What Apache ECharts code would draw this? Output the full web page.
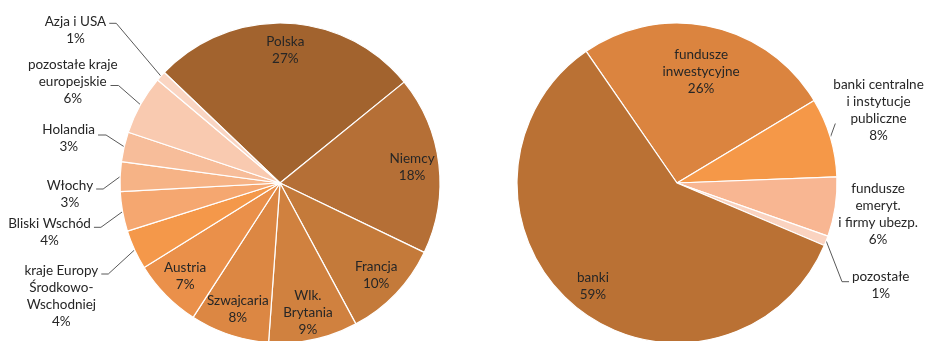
<!DOCTYPE html>
<html>
<head>
<meta charset="utf-8">
<script src="https://cdn.jsdelivr.net/npm/echarts@6/dist/echarts.min.js"></script>
<style>
  html, body { margin: 0; padding: 0; background: #fff; }
  #chart { width: 927px; height: 341px; }
</style>
</head>
<body>
<div id="chart"></div>
<script>
// Struktura inwestorów według kraju (lewy wykres) i typu instytucji (prawy wykres), w %
const countryNames = ['Polska', 'Niemcy', 'Francja', 'Wlk.\nBrytania', 'Szwajcaria', 'Austria',
  'kraje Europy\nŚrodkowo-\nWschodniej', 'Bliski Wschód', 'Włochy', 'Holandia',
  'pozostałe kraje\neuropejskie', 'Azja i USA'];
const countryShares = [27, 18, 10, 9, 8, 7, 4, 4, 3, 3, 6, 1];

const holderNames = ['fundusze\ninwestycyjne', 'banki centralne\ni instytucje\npubliczne',
  'fundusze\nemeryt.\ni firmy ubezp.', 'pozostałe', 'banki'];
const holderShares = [26, 8, 6, 1, 59];

// Paleta
const countryColors = ['#A2632E', '#B56F36', '#C47A3A', '#D0813F', '#DC8743', '#EA904A',
  '#F4984A', '#F5A770', '#F6B386', '#F7BD9A', '#F9CAB0', '#FAD5C2'];
const holderColors = ['#DB843F', '#F59848', '#F8B692', '#FAD3C0', '#BA7134'];

const FONT = 'Lato, "Open Sans", sans-serif';
const R = 160;
const leftCenter = [280, 183];
const rightCenter = [677, 183];
const leftStart = 136.3;
const rightStart = 124.6;
const GAP = 3;   // space between a leader line and its text

// every line of a label is a centred rich token
function labelText(p) {
  const lines = p.name.split('\n');
  lines.push(p.value + '%');
  return lines.map(s => '{t|' + s + '}').join('\n');
}
const richText = {
  t: { align: 'center', fontFamily: FONT, fontSize: 13.5, lineHeight: 17, color: '#262626' }
};

// leader-line labels outside the pies:
// len / len2 - radial and horizontal leader segments (they set the label's x),
// textY - vertical centre of the text block, lineY - height of the horizontal segment,
// endShift - how far the line end reaches in under a wider first text line
const leftOutside = {
  6: { len: 29, len2: 7, textY: 295.7, lineY: 274 },
  7: { len: 22, len2: 7, textY: 232, lineY: 227.3 },
  8: { len: 17, len2: 7, textY: 193.7, lineY: 189 },
  9: { len: 18.6, len2: 8, textY: 138.3, lineY: 135 },
  10: { len: 13.7, len2: 8, textY: 81.8, lineY: 85.5, endShift: 10 },
  11: { len: 60, len2: 7, textY: 30, lineY: 23.3 }
};
const rightOutside = {
  1: { len: 0, len2: 0, textY: 109.7, lineY: 123.5, endShift: 5 },
  2: { len: 0, len2: 0, textY: 213.8, lineY: null },
  3: { len: 17, len2: 7, textY: 285, lineY: 281.7 }
};

function placeLabels(outside) {
  return function (params) {
    const o = outside[params.dataIndex];
    if (!o) return {};
    const res = { y: o.textY };
    const pts = params.labelLinePoints;
    if (o.lineY != null && pts && pts.length) {
      const r = params.labelRect;
      const shift = o.endShift || 0;
      const onLeft = params.align === 'right';
      const endX = onLeft ? r.x + r.width + GAP - shift : r.x - GAP + shift;
      const cornerX = onLeft ? endX + o.len2 : endX - o.len2;
      res.labelLinePoints = [pts[0].slice(), [cornerX, o.lineY], [endX, o.lineY]];
    }
    return res;
  };
}

function mainPie(center, start, names, values, colors, outside) {
  return {
    type: 'pie',
    center: center,
    radius: [0, R],
    startAngle: start,
    clockwise: true,
    silent: true,
    avoidLabelOverlap: false,
    itemStyle: { borderColor: '#ffffff', borderWidth: 1.2 },
    label: {
      show: false, formatter: labelText, rich: richText,
      distanceToLabelLine: GAP, bleedMargin: 0, overflow: 'none'
    },
    labelLine: { show: false, lineStyle: { color: '#595959', width: 1 } },
    labelLayout: placeLabels(outside),
    emphasis: { disabled: true },
    data: names.map((n, i) => {
      const item = { name: n, value: values[i], itemStyle: { color: colors[i] } };
      const o = outside[i];
      if (o) {
        item.label = { show: true };
        item.labelLine = { show: o.lineY != null, length: o.len, length2: o.len2 };
      }
      return item;
    })
  };
}

// transparent ring that carries the labels drawn inside the slices
function labelRing(center, start, names, values, inner, shown) {
  return {
    type: 'pie',
    center: center,
    radius: [inner, R],
    startAngle: start,
    clockwise: true,
    silent: true,
    z: 5,
    itemStyle: { color: 'rgba(0,0,0,0)', borderWidth: 0 },
    label: { show: false, position: 'inside', formatter: labelText, rich: richText },
    labelLine: { show: false },
    emphasis: { disabled: true },
    data: names.map((n, i) => ({ name: n, value: values[i], label: { show: shown.indexOf(i) >= 0 } }))
  };
}

const chart = echarts.init(document.getElementById('chart'), null, { renderer: 'canvas' });
chart.setOption({
  animation: false,
  backgroundColor: '#ffffff',
  series: [
    mainPie(leftCenter, leftStart, countryNames, countryShares, countryColors, leftOutside),
    labelRing(leftCenter, leftStart, countryNames, countryShares, 100, [0, 1, 2, 3, 4, 5]),
    mainPie(rightCenter, rightStart, holderNames, holderShares, holderColors, rightOutside),
    labelRing(rightCenter, rightStart, holderNames, holderShares, 62, [0]),
    labelRing(rightCenter, rightStart, holderNames, holderShares, 100, [4])
  ]
});
</script>
</body>
</html>
